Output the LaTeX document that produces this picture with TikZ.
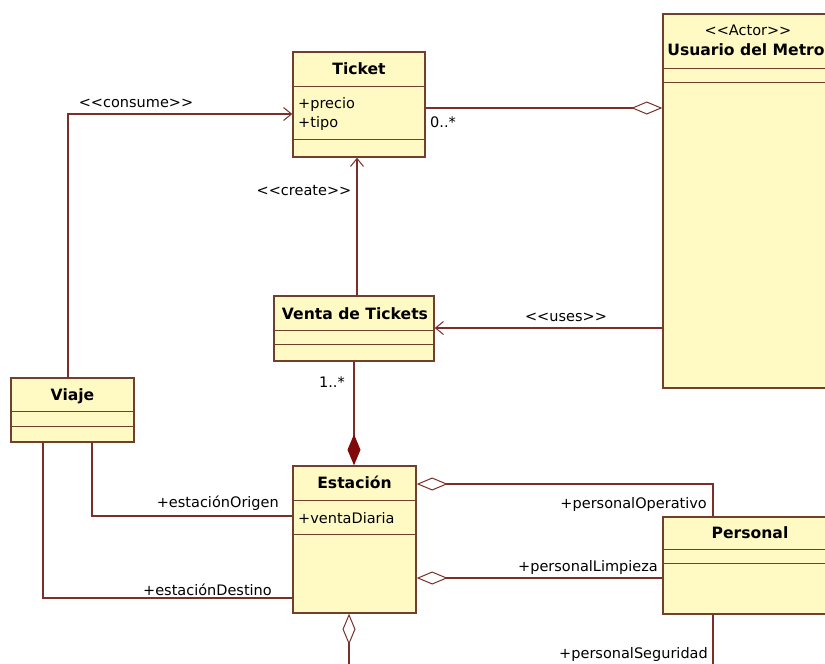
\documentclass[tikz,border=0pt]{standalone}
\usepackage{fontspec}
\setmainfont{DejaVu Sans}
\usetikzlibrary{arrows.meta,calc}

\definecolor{classfill}{RGB}{255,250,196}
\definecolor{classline}{RGB}{112,64,44}
\definecolor{linkline}{RGB}{122,48,40}
\definecolor{compfill}{RGB}{128,10,10}

% stereotype brackets, kept apart so they are not joined into guillemets
\newcommand{\stOpen}{<{}<}
\newcommand{\stClose}{>{}>}

\tikzset{
  classbox/.style={draw=classline, fill=classfill, line width=1.4pt, inner sep=0pt},
  divider/.style={draw=classline, line width=1.4pt},
  classname/.style={font=\fontsize{15.6}{18}\selectfont\bfseries, inner sep=0pt, anchor=base},
  stereo/.style={font=\fontsize{14.5}{17}\selectfont, inner sep=0pt, anchor=base},
  attr/.style={font=\fontsize{14.5}{17}\selectfont, inner sep=0pt, anchor=base west},
  lbl/.style={font=\fontsize{14.5}{17}\selectfont, inner sep=0pt},
  link/.style={draw=linkline, line width=1.3pt},
  usesarrow/.style={link, -{Straight Barb[length=8pt,width=13pt,line width=1pt]}},
  aggr/.style={link, -{Diamond[length=31pt,width=13pt,fill=white,line width=1pt]}},
  comp/.style={link, -{Diamond[length=31pt,width=13pt,fill=compfill,color=compfill]}},
}

\begin{document}
\begin{tikzpicture}[x=1pt,y=-1pt]
\clip (0,0) rectangle (825,664);

% ---- classes ----
\node[classbox, minimum width=132pt, minimum height=105pt] (ticket) at (359,104.5) {};
\draw[divider] ($(ticket.north west)+(0,35)$) -- ($(ticket.north east)+(0,35)$);
\draw[divider] ($(ticket.north west)+(0,88)$) -- ($(ticket.north east)+(0,88)$);
\node[classname] (ticket-name) at (359,74) {Ticket};
\node[attr] (ticket-precio) at (298,108) {+precio};
\node[attr] (ticket-tipo) at (298,127) {+tipo};

\node[classbox, minimum width=170pt, minimum height=374pt] (usuario) at (748,201) {};
\draw[divider] ($(usuario.north west)+(0,55)$) -- ($(usuario.north east)+(0,55)$);
\draw[divider] ($(usuario.north west)+(0,69)$) -- ($(usuario.north east)+(0,69)$);
\node[stereo] (usuario-stereo) at (748,35) {\stOpen Actor\stClose};
\node[classname] (usuario-name) at (746,55) {Usuario del Metro};

\node[classbox, minimum width=160pt, minimum height=65pt] (venta) at (354,328.5) {};
\draw[divider] ($(venta.north west)+(0,35)$) -- ($(venta.north east)+(0,35)$);
\draw[divider] ($(venta.north west)+(0,49)$) -- ($(venta.north east)+(0,49)$);
\node[classname] (venta-name) at (355,319) {Venta de Tickets};

\node[classbox, minimum width=123pt, minimum height=64pt] (viaje) at (72.5,410) {};
\draw[divider] ($(viaje.north west)+(0,34)$) -- ($(viaje.north east)+(0,34)$);
\draw[divider] ($(viaje.north west)+(0,49)$) -- ($(viaje.north east)+(0,49)$);
\node[classname] (viaje-name) at (72.5,400) {Viaje};

\node[classbox, minimum width=123pt, minimum height=147pt] (estacion) at (354.5,539.5) {};
\draw[divider] ($(estacion.north west)+(0,35)$) -- ($(estacion.north east)+(0,35)$);
\draw[divider] ($(estacion.north west)+(0,69)$) -- ($(estacion.north east)+(0,69)$);
\node[classname] (estacion-name) at (354.5,488) {Estación};
\node[attr] (estacion-venta) at (298,523) {+ventaDiaria};

\node[classbox, minimum width=174pt, minimum height=97pt] (personal) at (750,565.5) {};
\draw[divider] ($(personal.north west)+(0,33)$) -- ($(personal.north east)+(0,33)$);
\draw[divider] ($(personal.north west)+(0,47)$) -- ($(personal.north east)+(0,47)$);
\node[classname] (personal-name) at (750,538) {Personal};

% ---- routing levels ----
\coordinate (yConsume) at (0,114);
\coordinate (xConsume) at (68,0);
\coordinate (xCreate) at (357,0);
\coordinate (yAgg) at (0,108);
\coordinate (yUses) at (0,328);
\coordinate (xComp) at (354,0);
\coordinate (xOrig) at (92,0);
\coordinate (yOrig) at (0,516);
\coordinate (xDest) at (43,0);
\coordinate (yDest) at (0,598);
\coordinate (yOper) at (0,484);
\coordinate (xStaff) at (713,0);
\coordinate (yLimp) at (0,578);
\coordinate (xLower) at (349,0);
\coordinate (yBottom) at (0,675);
\coordinate (segEnd) at (xStaff |- yBottom);
\coordinate (lowerEnd) at (xLower |- yBottom);

% ---- connectors ----
\draw[usesarrow] (viaje.north -| xConsume) |- (ticket.west |- yConsume);
\draw[usesarrow] (venta.north -| xCreate) -- (ticket.south -| xCreate);
\draw[aggr] (ticket.east |- yAgg) -- (usuario.west |- yAgg);
\draw[usesarrow] (usuario.west |- yUses) -- (venta.east |- yUses);
\draw[comp] (venta.south -| xComp) -- (estacion.north -| xComp);
\draw[link] (viaje.south -| xOrig) |- (estacion.west |- yOrig);
\draw[link] (viaje.south -| xDest) |- (estacion.west |- yDest);
\draw[aggr] (personal.north -| xStaff) |- (estacion.east |- yOper);
\draw[aggr] (personal.west |- yLimp) -- (estacion.east |- yLimp);
\draw[link] (personal.south -| xStaff) -- (segEnd);
\draw[aggr] (lowerEnd) -- (estacion.south -| xLower);

% ---- connector labels ----
\node[lbl, anchor=base] (l-consume) at (136,107) {\stOpen consume\stClose};
\node[lbl, anchor=base] (l-create) at (304,195) {\stOpen create\stClose};
\node[lbl, anchor=base west] (l-mult0) at (430,127) {0..*};
\node[lbl, anchor=base] (l-uses) at (566,321) {\stOpen uses\stClose};
\node[lbl, anchor=base] (l-mult1) at (332,387) {1..*};
\node[lbl, anchor=base east] (l-origen) at (279,507) {+estaciónOrigen};
\node[lbl, anchor=base east] (l-destino) at (272,595) {+estaciónDestino};
\node[lbl, anchor=base east] (l-oper) at (707,508) {+personalOperativo};
\node[lbl, anchor=base east] (l-limp) at (658,571) {+personalLimpieza};
\node[lbl, anchor=base east] (l-seg) at (708,658) {+personalSeguridad};
\end{tikzpicture}
\end{document}
